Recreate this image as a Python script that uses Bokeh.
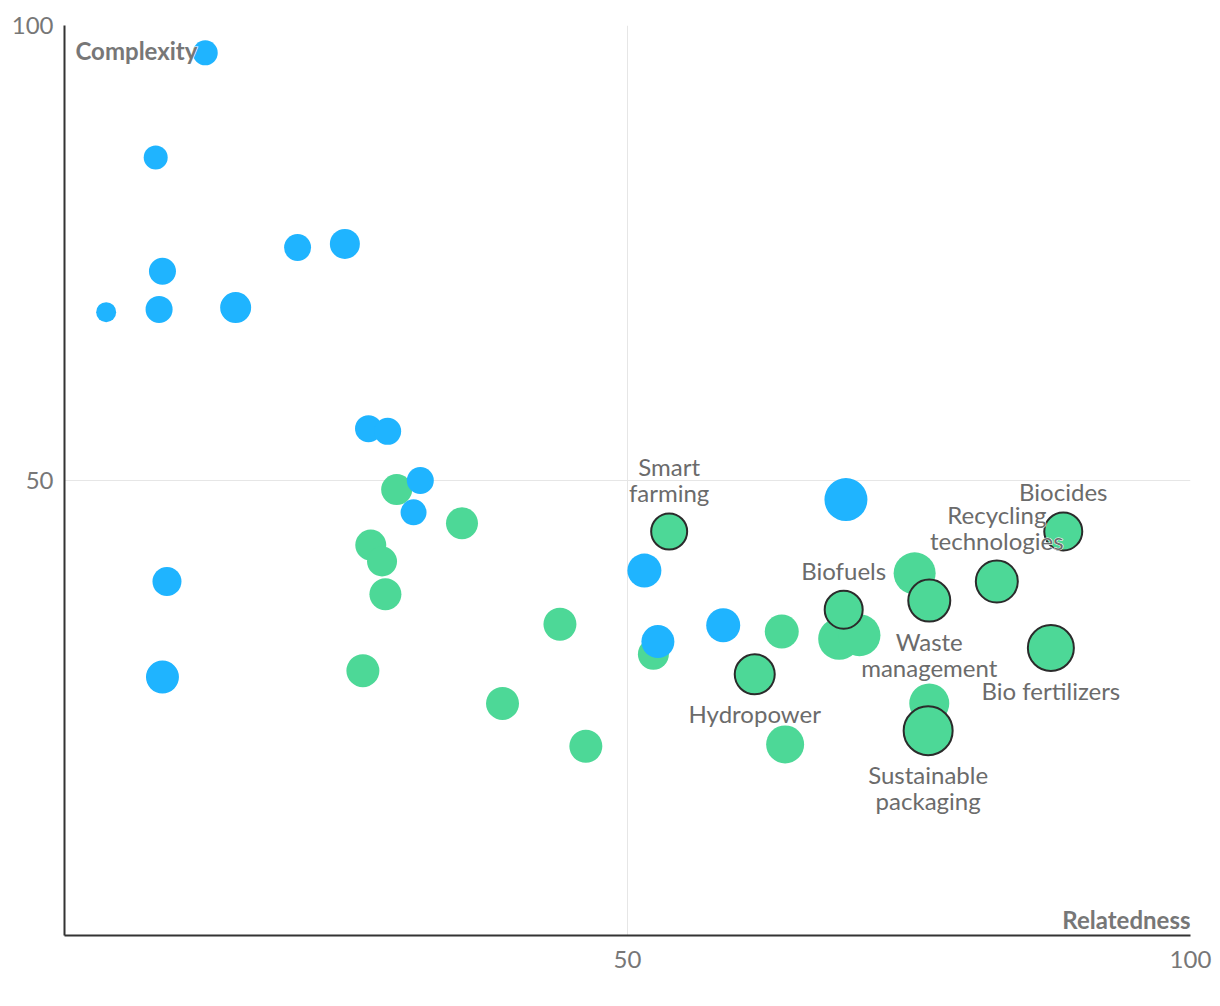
from bokeh.plotting import figure
from bokeh.models import Range1d, FixedTicker, Label, ColumnDataSource
from bokeh.core.properties import value
from bokeh.embed import file_html
from bokeh.resources import INLINE

# ---- data ----
blue_x = [12.5, 8.1, 8.7, 3.7, 8.4, 15.2, 20.7, 24.9, 27.0, 28.7, 31.6, 31.0, 9.1, 8.7, 51.5, 52.7, 58.5, 69.4]
blue_y = [97.0, 85.5, 73.0, 68.5, 68.8, 69.0, 75.6, 76.0, 55.7, 55.4, 50.0, 46.5, 38.9, 28.4, 40.1, 32.3, 34.1, 47.9]
blue_z = [25, 24, 27, 20, 27, 31, 27, 30, 27, 27, 27, 26, 29, 33, 34, 33, 34, 43]

green_x = [29.5, 35.3, 27.2, 28.2, 28.5, 44.0, 26.5, 38.9, 46.3, 52.3, 63.7, 64.0, 75.5, 68.8, 70.6, 76.8]
green_y = [49.0, 45.3, 42.9, 41.1, 37.5, 34.2, 29.1, 25.5, 20.8, 30.9, 33.4, 21.0, 39.8, 32.6, 33.0, 25.5]
green_z = [31, 32, 31, 30, 32, 33, 33, 33, 33, 31, 34, 38, 42, 42, 42, 40]

lab_names = ["Smart\nfarming", "Biocides", "Recycling\ntechnologies", "Biofuels",
             "Waste\nmanagement", "Bio fertilizers", "Hydropower", "Sustainable\npackaging"]
lab_x = [53.7, 88.7, 82.8, 69.2, 76.8, 87.6, 61.3, 76.7]
lab_y = [44.4, 44.4, 38.9, 35.8, 36.8, 31.6, 28.7, 22.5]
lab_z = [36, 38, 42, 38, 42, 46, 40, 49]
lab_pos = ["above", "above", "above", "above", "below", "below", "below", "below"]

x_ticks = [50, 100]
y_ticks = [50, 100]

BLUE = "#1fb4ff"
GREEN = "#4dd897"
LABEL_GRAY = "#6b6b6b"
TICK_GRAY = "#777777"
FONT = "Lato"
FS = "24px"
LINE_H = 26

p = figure(width=1212, height=990, x_range=Range1d(0, 100), y_range=Range1d(0, 100),
           output_backend="svg", toolbar_location=None,
           min_border_left=64, min_border_right=22, min_border_top=25, min_border_bottom=55)
p.outline_line_color = None
p.background_fill_color = "white"
p.border_fill_color = "white"

for ax in (p.xaxis, p.yaxis):
    ax.axis_line_color = "#333333"
    ax.axis_line_width = 2
    ax.major_tick_line_color = None
    ax.minor_tick_line_color = None
    ax.major_tick_out = 0
    ax.major_tick_in = 0
    ax.minor_tick_out = 0
    ax.major_label_text_font = FONT
    ax.major_label_text_font_size = FS
    ax.major_label_text_color = TICK_GRAY
p.xaxis.ticker = FixedTicker(ticks=x_ticks)
p.yaxis.ticker = FixedTicker(ticks=y_ticks)
p.xaxis.major_label_standoff = 15
p.yaxis.major_label_standoff = 11
p.xgrid.ticker = FixedTicker(ticks=x_ticks)
p.ygrid.ticker = FixedTicker(ticks=y_ticks)
for g in (p.xgrid, p.ygrid):
    g.grid_line_color = "#e6e6e6"
    g.grid_line_width = 1

gsrc = ColumnDataSource(dict(x=green_x, y=green_y, z=green_z))
bsrc = ColumnDataSource(dict(x=blue_x, y=blue_y, z=blue_z))
lsrc = ColumnDataSource(dict(x=lab_x, y=lab_y, z=lab_z))

p.scatter("x", "y", size="z", source=gsrc, fill_color=GREEN, line_color=None)
p.scatter("x", "y", size="z", source=lsrc, fill_color=GREEN, line_color="#2b2b2b", line_width=2)
p.scatter("x", "y", size="z", source=bsrc, fill_color=BLUE, line_color=None)

# labels: one entry per text line; white halo layer underneath, gray text on top
for pos in ("above", "below"):
    xs, ys, ts, offs = [], [], [], []
    for i, s in enumerate(lab_pos):
        if s != pos:
            continue
        lines = lab_names[i].split("\n")
        n = len(lines)
        for k, line in enumerate(lines):
            xs.append(lab_x[i])
            ys.append(lab_y[i])
            ts.append(line)
            if pos == "above":
                offs.append(-(lab_z[i] / 2 + 6) - (n - 1 - k) * LINE_H)
            else:
                offs.append((lab_z[i] / 2 + 5) + k * LINE_H)
    base = "bottom" if pos == "above" else "top"
    src = ColumnDataSource(dict(x=xs, y=ys, t=ts, o=offs))
    for halo in (True, False):
        kw = dict(text_color="white", text_outline_color="white") if halo else dict(text_color=LABEL_GRAY)
        p.text("x", "y", text="t", source=src, y_offset="o", text_align="center",
               text_baseline=base, text_font=value(FONT), text_font_size=FS, **kw)

for halo in (True, False):
    kw = dict(text_color="white", text_outline_color="white") if halo else dict(text_color=TICK_GRAY)
    p.add_layout(Label(x=0, y=100, x_offset=11, y_offset=-25, text="Complexity",
                       text_font=FONT, text_font_size=FS, text_font_style="bold",
                       text_baseline="alphabetic", **kw))
p.add_layout(Label(x=100, y=0, x_offset=0, y_offset=16, text="Relatedness",
                   text_font=FONT, text_font_size=FS, text_font_style="bold",
                   text_color=TICK_GRAY, text_baseline="alphabetic", text_align="right"))

open("out.html", "w").write(file_html(p, INLINE))
